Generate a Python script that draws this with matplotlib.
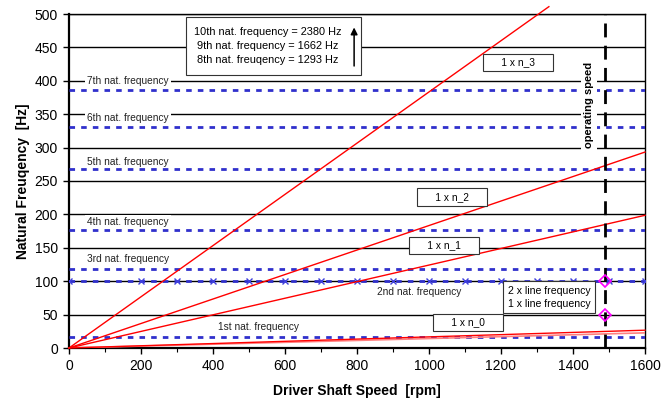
import matplotlib
matplotlib.use("Agg")
import matplotlib.pyplot as plt
from matplotlib.patches import FancyArrowPatch, Rectangle

plt.rcParams['font.family'] = ['Liberation Sans', 'DejaVu Sans']

# ---- data ----
rpm_range = [0, 1600]
nat_freqs = [17, 100, 119, 177, 268, 331, 386]           # 1st..7th natural frequencies [Hz]
nat_labels = ["1st nat. frequency", "2nd nat. frequency", "3rd nat. frequency",
              "4th nat. frequency", "5th nat. frequency", "6th nat. frequency",
              "7th nat. frequency"]
order_names = ["1 x n_0", "1 x n_1", "1 x n_2", "1 x n_3"]
order_ratios = [1.0, 7.45, 11.0, 23.0]                   # Hz per (rpm/60)
order_end_rpm = [1600, 1600, 1600, 1333]
faint_ratio = 0.85
marker_rpm = [0, 200, 300, 400, 500, 600, 700, 800, 900, 1000, 1100, 1200, 1300, 1400, 1500, 1600]
line_freq = [50, 100]                                     # 1x and 2x line frequency
operating_speed = 1490
high_modes = "10th nat. frequency = 2380 Hz\n9th nat. frequency = 1662 Hz\n8th nat. freuqency = 1293 Hz"

fig = plt.figure(figsize=(6.63, 4.0), dpi=100)
ax = fig.add_axes([69/663, 52/400, 576/663, 334/400])
ax.set_xlim(0, 1600)
ax.set_ylim(0, 500)

# grid
for g in range(50, 501, 50):
    ax.axhline(g, color='black', lw=1.0, zorder=1)

blue = '#3030CC'
for f in nat_freqs:
    ax.plot(rpm_range, [f, f], color=blue, lw=2.0, ls=(0, (2, 2.2)), zorder=3)
ax.plot(marker_rpm, [100]*len(marker_rpm), ls='none', marker='x', ms=5, mew=1.0,
        color='#4040DD', zorder=4)

# order lines
for r, e in zip(order_ratios, order_end_rpm):
    ax.plot([0, e], [0, r*e/60], color='red', lw=1.0, zorder=5, clip_on=False)
ax.plot([0, 1600], [0, faint_ratio*1600/60], color='#FF8080', lw=1.2, zorder=4)

# operating speed
ax.plot([operating_speed, operating_speed], [0, 500], color='black', lw=2.0,
        ls=(0, (5, 3)), zorder=6)
ax.plot([operating_speed]*2, line_freq, ls='none', marker='D', ms=6, mfc='none',
        mec='#FF00FF', mew=1.2, zorder=7)

# labels for nat. frequencies
fs = 7.3
wbox = dict(facecolor='white', edgecolor='none', pad=1.5)
label_pos = {6: (50, 400), 5: (50, 345), 4: (50, 278), 3: (50, 189), 2: (50, 133),
             0: (414, 31), 1: (855, 84)}
for i, (x, y) in label_pos.items():
    ax.text(x, y, nat_labels[i], fontsize=fs, ha='left', va='center', color='#222222',
            bbox=wbox if i >= 2 else None, zorder=2)

# order labels boxes
bbox_k = dict(facecolor='white', edgecolor='#333333', lw=0.8, boxstyle='square,pad=0.35')
order_label_pos = [(1108, 38), (1042, 154), (1064, 226), (1247, 428)]
for name, (x, y) in zip(order_names, order_label_pos):
    ax.text(x, y, "     " + name + "     ", fontsize=fs, ha='center', va='center',
            bbox=bbox_k, zorder=8)

ax.text(1333, 76, "2 x line frequency\n1 x line frequency", fontsize=fs + 0.3, ha='center',
        va='center', linespacing=1.35,
        bbox=dict(facecolor='white', edgecolor='#333333', lw=0.8, boxstyle='square,pad=0.45'),
        zorder=8)

# higher modes box
ax.add_patch(Rectangle((325, 409), 486, 87, facecolor='white', edgecolor='#333333',
                       lw=0.8, zorder=8))
ax.text(553, 452, high_modes, fontsize=7.9, ha='center', va='center',
        linespacing=1.5, zorder=9)
arr = FancyArrowPatch((792, 418), (792, 484), arrowstyle='-|>', mutation_scale=10,
                      color='black', lw=1.1, zorder=10)
ax.add_patch(arr)

ax.text(1444, 364, "operating speed", rotation=90, fontsize=fs + 0.7, fontweight='bold',
        ha='center', va='center', bbox=dict(facecolor='white', edgecolor='none', pad=2),
        zorder=5)

# axes styling
ax.set_xticks(range(0, 1601, 200))
ax.set_xticks(range(0, 1601, 100), minor=True)
ax.set_yticks(range(0, 501, 50))
ax.tick_params(axis='both', which='major', direction='out', length=4, width=1,
               labelsize=10, pad=4)
ax.tick_params(axis='x', which='minor', direction='out', length=3, width=0.8)
for s in ['left', 'bottom']:
    ax.spines[s].set_linewidth(1.6)
for s in ['top', 'right']:
    ax.spines[s].set_linewidth(1.0)
ax.set_xlabel("Driver Shaft Speed  [rpm]", fontsize=10, fontweight='bold', labelpad=8)
ax.set_ylabel("Natural Freuqency  [Hz]", fontsize=10, fontweight='bold', labelpad=3)

fig.savefig("out.png", dpi=100)
